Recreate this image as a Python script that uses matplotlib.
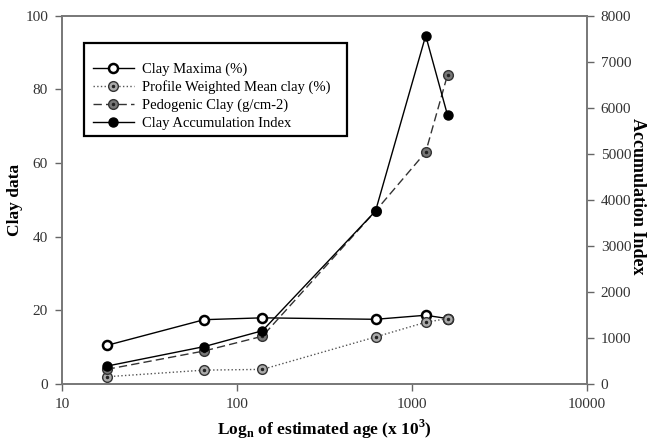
import numpy as np
import matplotlib.pyplot as plt
from matplotlib.patches import Rectangle

plt.rcParams['font.family'] = ['Liberation Serif', 'DejaVu Serif']

# estimated age (x 10^3 yr)
age = [18, 65, 140, 620, 1200, 1600]
clay_max = [10.5, 17.5, 18.0, 17.6, 18.7, 17.8]
weighted_mean = [2.0, 3.8, 4.0, 12.8, 16.8, 17.8]
pedogenic = [4.0, 9.0, 13.0, 47.0, 63.0, 84.0]
accum_index = [390, 815, 1160, 3760, 7570, 5840]

labels = ['Clay Maxima (%)', 'Profile Weighted Mean clay (%)',
          'Pedogenic Clay (g/cm-2)', 'Clay Accumulation Index']

fig = plt.figure(figsize=(6.52, 4.40), dpi=100)
ax = fig.add_axes([0.095, 0.127, 0.805, 0.837])
ax2 = ax.twinx()

l1, = ax.plot(age, clay_max, '-', color='black', lw=1.0, marker='o', ms=6.5,
              mfc='white', mec='black', mew=1.8)
l2, = ax.plot(age, weighted_mean, ':', color='#555555', lw=1.0, marker='o', ms=7,
              mfc='#aaaaaa', mec='#333333', mew=1.0)
d2, = ax.plot(age, weighted_mean, ls='none', marker='.', ms=3, color='#222222')
l3, = ax.plot(age, pedogenic, '--', color='#333333', lw=1.0, dashes=(6, 3), marker='o',
              ms=7, mfc='#777777', mec='#333333', mew=1.0)
d3, = ax.plot(age, pedogenic, ls='none', marker='.', ms=3, color='#222222')
l4, = ax2.plot(age, accum_index, '-', color='black', lw=1.0, marker='o', ms=6.5,
               mfc='black', mec='black')

ax.set_xscale('log')
ax.set_xlim(10, 10000)
ax.set_ylim(0, 100)
ax2.set_ylim(0, 8000)
ax.set_xticks([10, 100, 1000, 10000])
ax.set_xticklabels(['10', '100', '1000', '10000'])
ax.minorticks_off()
ax.set_yticks(np.arange(0, 101, 20))
ax2.set_yticks(np.arange(0, 8001, 1000))

for a in (ax, ax2):
    a.tick_params(direction='out', length=5, width=1, color='#666666',
                  labelsize=11, labelcolor='#333333', pad=5)
    for s in a.spines.values():
        s.set_color('#777777')
        s.set_linewidth(1.2)

ax.set_xlabel('Log$_\\mathregular{n}$ of estimated age (x 10$^\\mathregular{3}$)',
              fontsize=12.5, fontweight='bold', labelpad=5)
ax.set_ylabel('Clay data', fontsize=12.5, fontweight='bold')
ax.yaxis.set_label_coords(-0.074, 0.5)
ax2.set_ylabel('Accumulation Index', fontsize=13, fontweight='bold',
               rotation=270, va='bottom')
ax2.yaxis.set_label_coords(1.08, 0.51)

# legend box drawn separately (top padding is larger than bottom in the original)
ax2.add_patch(Rectangle((0.042, 0.674), 0.501, 0.253, transform=ax.transAxes,
                        facecolor='white', edgecolor='black', lw=1.6, zorder=4))
leg = ax2.legend([l1, (l2, d2), (l3, d3), l4], labels,
                 loc='upper left', bbox_to_anchor=(0.042, 0.897), borderaxespad=0,
                 fontsize=10.5, frameon=False, handlelength=2.8, handletextpad=0.6,
                 labelspacing=0.31, borderpad=0.6)
leg.set_zorder(5)

fig.savefig('out.png', dpi=100)
